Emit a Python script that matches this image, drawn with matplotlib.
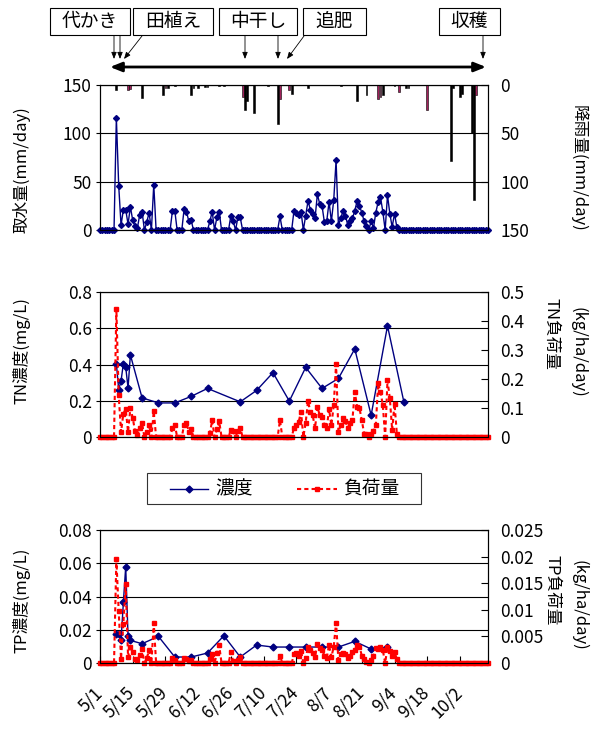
import matplotlib.pyplot as plt
import numpy as np
from matplotlib.patches import Rectangle, FancyArrowPatch
from matplotlib.lines import Line2D
from matplotlib.transforms import ScaledTranslation

plt.rcParams['font.family'] = ['Noto Sans CJK JP', 'DejaVu Sans']
plt.rcParams['font.size'] = 12

NAVY = '#000080'
RED = '#FF0000'
W, H = 599, 731

# x axis: days counted from 5/1
date_ticks = [0, 14, 28, 42, 56, 70, 84, 98, 112, 126, 140, 154]
date_labels = ['5/1', '5/15', '5/29', '6/12', '6/26', '7/10', '7/24',
               '8/7', '8/21', '9/4', '9/18', '10/2']

# daily water intake (mm/day), one row per week from 5/1
intake = [
    0, 0, 0, 0, 0, 0, 0,
    116, 46, 5, 21, 21, 6, 24,
    10, 4, 2, 16, 19, 0, 8,
    18, 0, 47, 0, 0, 0, 0,
    0, 0, 0, 20, 20, 0, 0,
    0, 22, 19, 9, 10, 0, 0,
    0, 0, 0, 0, 0, 9, 19,
    0, 13, 19, 0, 0, 0, 0,
    15, 9, 0, 13, 13, 0, 0,
    0, 0, 0, 0, 0, 0, 0,
    0, 0, 0, 0, 0, 0, 0,
    14, 0, 0, 0, 0, 0, 20,
    18, 16, 19, 0, 15, 30, 21,
    17, 12, 37, 27, 25, 8, 9,
    29, 9, 31, 72, 5, 12, 20,
    15, 5, 9, 12, 20, 30, 25,
    18, 9, 4, 0, 9, 2, 18,
    29, 34, 19, 0, 36, 17, 3,
    17, 3, 0, 0, 0, 0, 0,
    0, 0, 0, 0, 0, 0, 0,
    0, 0, 0, 0, 0, 0, 0,
    0, 0, 0, 0, 0, 0, 0,
    0, 0, 0, 0, 0, 0, 0,
    0, 0, 0, 0, 0, 0,
]

# rainfall (mm/day)
rain_days = [7, 12, 13, 18, 27, 28, 29, 32, 39, 40, 42, 45, 46, 51, 53, 61, 62,
             63, 66, 72, 76, 77, 81, 82, 89, 103, 110, 114, 119, 120, 121, 126,
             128, 131, 132, 140, 150, 151, 154, 155, 159, 160, 161]
rain_mm = [5, 5, 4, 13, 10, 3, 3, 1, 10, 3, 3, 2, 2, 1, 1, 12, 26,
           17, 29, 1, 40, 14, 5, 9, 3, 1, 17, 10, 14, 12, 10, 1,
           7, 3, 3, 26, 79, 3, 12, 9, 50, 119, 10]
rain_red_days = [12, 13, 28, 61, 77, 81, 119, 120, 128, 140, 161]

# TN concentration (mg/L), sampled days
tn_days = [7, 8, 9, 10, 11, 12, 13, 18, 25, 32, 39, 46, 60, 67, 74, 81, 88,
           95, 102, 109, 116, 123, 130]
tn_conc = [0.405, 0.262, 0.309, 0.405, 0.386, 0.27, 0.453, 0.216, 0.188,
           0.188, 0.224, 0.268, 0.194, 0.257, 0.355, 0.198, 0.384, 0.268,
           0.323, 0.486, 0.12, 0.613, 0.194]

# TN load (kg/ha/day), daily
tn_load = [
    0, 0, 0, 0, 0, 0, 0,
    0.442, 0.144, 0.017, 0.081, 0.096, 0.017, 0.10,
    0.066, 0.02, 0.006, 0.03, 0.047, 0, 0.017,
    0.043, 0, 0.089, 0, 0, 0, 0,
    0, 0, 0, 0.03, 0.043, 0, 0,
    0, 0.043, 0.05, 0.017, 0.027, 0, 0,
    0, 0, 0, 0, 0, 0.013, 0.058,
    0, 0.027, 0.054, 0, 0, 0, 0,
    0.025, 0.02, 0, 0.022, 0.032, 0, 0,
    0, 0, 0, 0, 0, 0, 0,
    0, 0, 0, 0, 0, 0, 0,
    0.058, 0, 0, 0, 0, 0, 0.032,
    0.04, 0.052, 0.087, 0, 0.05, 0.124, 0.087,
    0.075, 0.03, 0.104, 0.075, 0.07, 0.04, 0.03,
    0.096, 0.04, 0.11, 0.252, 0.017, 0.04, 0.064,
    0.054, 0.03, 0.05, 0.06, 0.156, 0.104, 0.1,
    0.058, 0.012, 0.012, 0, 0.012, 0.02, 0.04,
    0.185, 0.156, 0.11, 0, 0.196, 0.133, 0.023,
    0.115, 0.012, 0, 0, 0, 0, 0,
    0, 0, 0, 0, 0, 0, 0,
    0, 0, 0, 0, 0, 0, 0,
    0, 0, 0, 0, 0, 0, 0,
    0, 0, 0, 0, 0, 0, 0,
    0, 0, 0, 0, 0, 0,
]

# TP concentration (mg/L), sampled days
tp_days = [7, 8, 9, 10, 11, 12, 13, 18, 25, 32, 39, 46, 53, 60, 67, 74, 81,
           88, 95, 102, 109, 116, 123]
tp_conc = [0.0176, 0.0176, 0.0136, 0.0364, 0.058, 0.016, 0.0136, 0.0116,
           0.016, 0.0036, 0.0036, 0.006, 0.0164, 0.0036, 0.0108, 0.0096,
           0.0096, 0.0096, 0.0096, 0.0096, 0.013, 0.0084, 0.0096]

# TP load (kg/ha/day), daily
tp_load = [
    0, 0, 0, 0, 0, 0, 0,
    0.0195, 0.0097, 0.0008, 0.0074, 0.0148, 0.0011, 0.003,
    0.002, 0.0008, 0.0005, 0.0015, 0.0026, 0, 0.0009,
    0.0024, 0, 0.0075, 0, 0, 0, 0,
    0, 0, 0, 0.0009, 0.0005, 0, 0,
    0, 0.0009, 0.0008, 0.0003, 0.0005, 0, 0,
    0, 0, 0, 0, 0, 0.0008, 0.0016,
    0, 0.0018, 0.0033, 0, 0, 0, 0,
    0.002, 0.0003, 0, 0.0005, 0.0011, 0, 0,
    0, 0, 0, 0, 0, 0, 0,
    0, 0, 0, 0, 0, 0, 0,
    0.0014, 0, 0, 0, 0, 0, 0.0016,
    0.0019, 0.0014, 0.0023, 0, 0.0009, 0.0031, 0.0025,
    0.0019, 0.0011, 0.0036, 0.0028, 0.0025, 0.0014, 0.0009,
    0.0034, 0.0011, 0.0031, 0.0076, 0.0005, 0.0016, 0.0019,
    0.0016, 0.0009, 0.0014, 0.002, 0.0024, 0.0034, 0.0031,
    0.0014, 0.0008, 0.0001, 0, 0.0006, 0.0013, 0.0028,
    0.0026, 0.0031, 0.0024, 0, 0.003, 0.0022, 0.0013,
    0.002, 0.0008, 0, 0, 0, 0, 0,
    0, 0, 0, 0, 0, 0, 0,
    0, 0, 0, 0, 0, 0, 0,
    0, 0, 0, 0, 0, 0, 0,
    0, 0, 0, 0, 0, 0, 0,
    0, 0, 0, 0, 0, 0,
]

# farm work annotations: label, box (x0, x1) px, arrows [(x_from, x_to)]
events = [
    ('代かき', 50, 130, [(114, 114), (120, 120)]),
    ('田植え', 133, 213, [(142, 124)]),
    ('中干し', 219, 297, [(245, 245), (278, 278)]),
    ('追肥', 303, 366, [(304, 287)]),
    ('収穫', 439, 500, [(483, 483)]),
]

days = np.arange(len(intake))


def fx(px):
    return px / W


def fy(py):
    return 1 - py / H


def rect(x0, x1, y0, y1):
    return [fx(x0), fy(y1), (x1 - x0) / W, (y1 - y0) / H]


def style_axes(ax, axr, ylim, yticks, ylabels, rlim, rticks, rlabels):
    ax.set_xlim(0, 166)
    ax.set_ylim(*ylim)
    ax.set_yticks(yticks)
    ax.set_yticklabels(ylabels)
    ax.yaxis.grid(True, color='black', lw=0.8)
    ax.set_axisbelow(True)
    ax.tick_params(axis='y', direction='out', length=3, pad=3, labelsize=12.5)
    ax.tick_params(axis='x', bottom=False, labelbottom=False)
    axr.set_ylim(*rlim)
    axr.set_yticks(rticks)
    axr.set_yticklabels(rlabels)
    axr.tick_params(axis='y', direction='in', length=5, pad=9, labelsize=12.5)
    for a in (ax, axr):
        for s in a.spines.values():
            s.set_color('black')
            s.set_linewidth(0.8)


fig = plt.figure(figsize=(W / 100, H / 100), dpi=100)

# --- top: water intake and rainfall
ax1 = fig.add_axes(rect(100, 488, 85, 230))
ax1.plot(days, intake, color=NAVY, lw=1, marker='D', ms=3, clip_on=False, zorder=3)
ax1r = ax1.twinx()
bar_colors = ['#A0205A' if d in rain_red_days else 'black' for d in rain_days]
ax1r.bar(rain_days, rain_mm, width=0.8, color=bar_colors, edgecolor='black', lw=0.4)
style_axes(ax1, ax1r, (0, 150), [0, 50, 100, 150], ['0', '50', '100', '150'],
           (150, 0), [0, 50, 100, 150], ['0', '50', '100', '150'])

# --- middle: TN
ax2 = fig.add_axes(rect(100, 488, 292, 437))
ax2.plot(tn_days, tn_conc, color=NAVY, lw=1, marker='D', ms=3.5, zorder=3)
ax2r = ax2.twinx()
ax2r.plot(days, tn_load, color=RED, lw=1.5, dashes=(2, 1.5), marker='s', ms=3.5,
          clip_on=False)
style_axes(ax2, ax2r, (0, 0.8), [0, 0.2, 0.4, 0.6, 0.8], ['0', '0.2', '0.4', '0.6', '0.8'],
           (0, 0.5), [0, 0.1, 0.2, 0.3, 0.4, 0.5], ['0', '0.1', '0.2', '0.3', '0.4', '0.5'])

# --- bottom: TP
ax3 = fig.add_axes(rect(100, 488, 530, 663))
ax3.plot(tp_days, tp_conc, color=NAVY, lw=1, marker='D', ms=3.5, zorder=3)
ax3r = ax3.twinx()
ax3r.plot(days, tp_load, color=RED, lw=1.5, dashes=(2, 1.5), marker='s', ms=3.5,
          clip_on=False)
style_axes(ax3, ax3r, (0, 0.08), [0, 0.02, 0.04, 0.06, 0.08],
           ['0', '0.02', '0.04', '0.06', '0.08'],
           (0, 0.025), [0, 0.005, 0.01, 0.015, 0.02, 0.025],
           ['0', '0.005', '0.01', '0.015', '0.02', '0.025'])
ax3.set_xticks(date_ticks)
ax3.set_xticklabels(date_labels, rotation=45, ha='right', rotation_mode='anchor')
ax3.tick_params(axis='x', bottom=True, labelbottom=True, direction='in', length=5,
                pad=15, labelsize=12.5)
shift = ScaledTranslation(-7 / 100, 0, fig.dpi_scale_trans)
for lab in ax3.get_xticklabels():
    lab.set_transform(lab.get_transform() + shift)

# axis titles
fig.text(fx(22), fy(170), '取水量(mm/day)', rotation=90, ha='center', va='center')
fig.text(fx(578), fy(168), '降雨量(mm/day)', rotation=-90, ha='center', va='center')
fig.text(fx(22), fy(351), 'TN濃度(mg/L)', rotation=90, ha='center', va='center')
fig.text(fx(551), fy(334), 'TN負荷量', rotation=-90, ha='center', va='center')
fig.text(fx(578), fy(352), '(kg/ha/day)', rotation=-90, ha='center', va='center')
fig.text(fx(22), fy(600), 'TP濃度(mg/L)', rotation=90, ha='center', va='center')
fig.text(fx(552), fy(590), 'TP負荷量', rotation=-90, ha='center', va='center')
fig.text(fx(579), fy(605), '(kg/ha/day)', rotation=-90, ha='center', va='center')

# farm work boxes and arrows
for label, x0, x1, arrows in events:
    fig.add_artist(Rectangle((fx(x0), fy(35)), (x1 - x0) / W, 27 / H,
                             transform=fig.transFigure, facecolor='white',
                             edgecolor='black', lw=0.8))
    fig.text(fx((x0 + x1) / 2), fy(21.5), label, ha='center', va='center', fontsize=13.5)
    for xa, xb in arrows:
        fig.add_artist(FancyArrowPatch((fx(xa), fy(36)), (fx(xb), fy(59)),
                                       transform=fig.transFigure,
                                       arrowstyle='-|>,head_length=0.5,head_width=0.2',
                                       mutation_scale=8, lw=0.6, color='black',
                                       shrinkA=0, shrinkB=0))
fig.add_artist(FancyArrowPatch((fx(110), fy(67)), (fx(486), fy(67)),
                               transform=fig.transFigure,
                               arrowstyle='<|-|>,head_length=0.5,head_width=0.2',
                               mutation_scale=14, lw=2, color='black',
                               shrinkA=0, shrinkB=0))

# legend between middle and bottom panel
fig.add_artist(Rectangle((fx(147), fy(504)), 274 / W, 31 / H, transform=fig.transFigure,
                         facecolor='white', edgecolor='#333333', lw=0.8))
fig.add_artist(Line2D([fx(170), fx(208)], [fy(489), fy(489)], transform=fig.transFigure,
                      color=NAVY, lw=1))
fig.add_artist(Line2D([fx(189)], [fy(489)], transform=fig.transFigure, color=NAVY,
                      marker='D', ms=3.5))
fig.text(fx(215), fy(489), '濃度', ha='left', va='center', fontsize=13.5)
fig.add_artist(Line2D([fx(297), fx(337)], [fy(489), fy(489)], transform=fig.transFigure,
                      color=RED, lw=1.5, dashes=(2, 1.5)))
fig.add_artist(Line2D([fx(317)], [fy(489)], transform=fig.transFigure, color=RED,
                      marker='s', ms=3.5))
fig.text(fx(343), fy(489), '負荷量', ha='left', va='center', fontsize=13.5)

fig.savefig('out.png', dpi=100)
